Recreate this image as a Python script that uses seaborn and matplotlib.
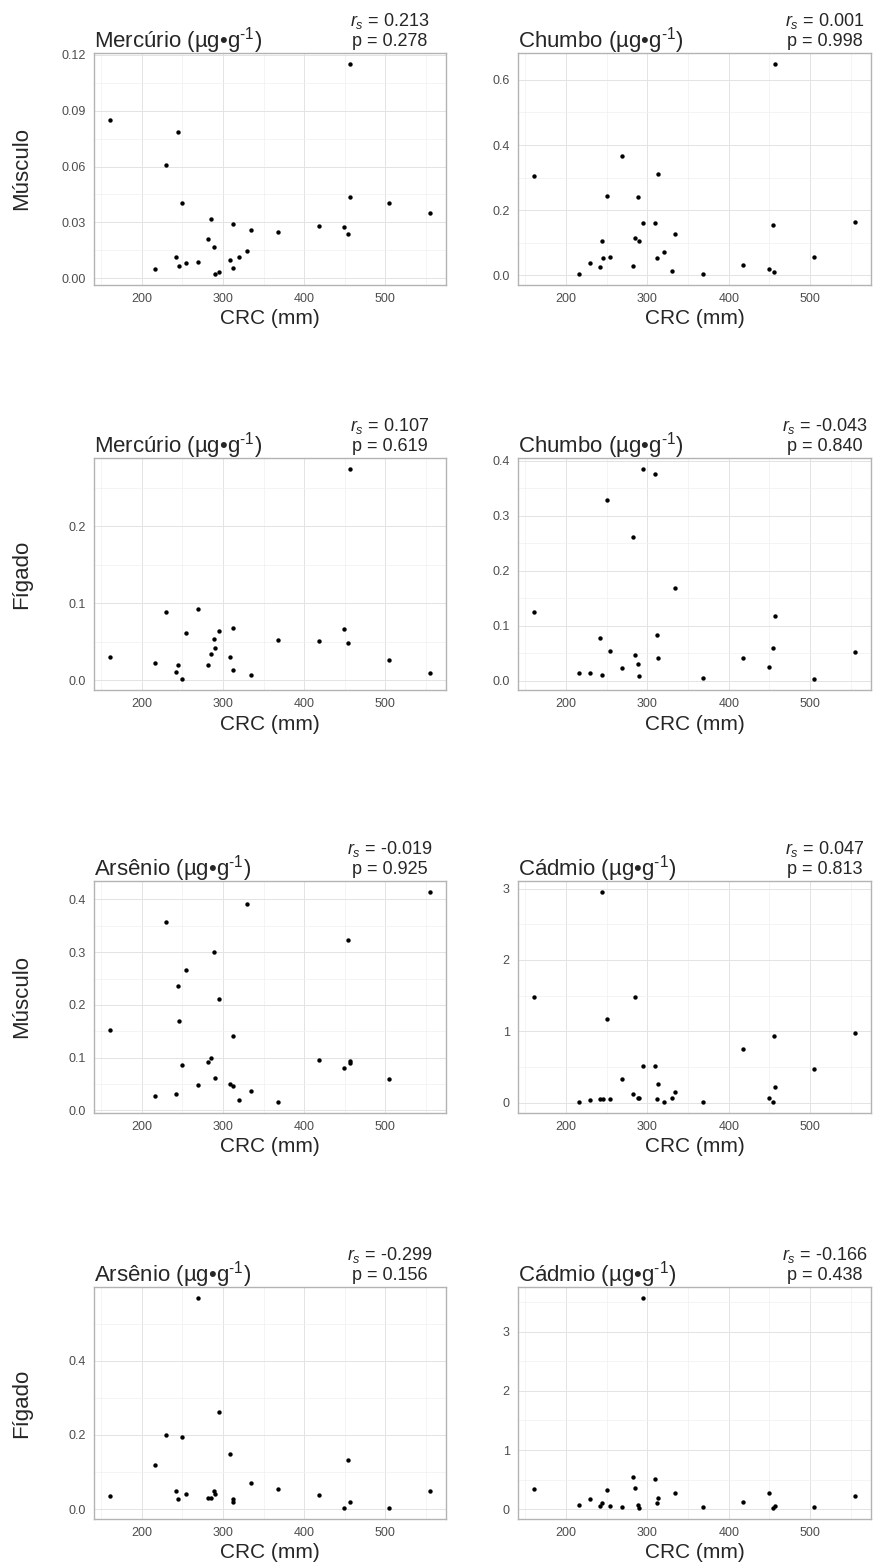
import numpy as np
import pandas as pd
import matplotlib
matplotlib.use("Agg")
import matplotlib.pyplot as plt
import seaborn as sns
from matplotlib.ticker import MultipleLocator, FormatStrFormatter

nan = np.nan

# CRC (mm) of each fish, shared by all panels
crc = [161, 216, 230, 242, 245, 246, 250, 254, 269, 282, 285, 289, 290, 295,
       309, 312, 313, 320, 330, 334, 368, 418, 449, 454, 456, 457, 505, 555]

hg_musculo = [0.085, 0.005, 0.061, 0.0115, 0.0785, 0.0063, 0.0405, 0.008, 0.0085, 0.021,
              0.032, 0.017, 0.002, 0.0035, 0.0098, 0.0055, 0.029, 0.0115, 0.0148, 0.026,
              0.025, 0.028, 0.0277, 0.0238, 0.0439, 0.1154, 0.0404, 0.035]
pb_musculo = [0.306, 0.003, 0.037, 0.027, 0.106, 0.052, 0.244, 0.058, 0.366, 0.029,
              0.114, 0.241, 0.106, 0.161, 0.161, 0.054, 0.312, 0.073, 0.015, 0.127,
              0.003, 0.032, 0.021, 0.155, 0.011, 0.650, 0.057, 0.163]
hg_figado = [0.0307, 0.0225, 0.0883, 0.0113, 0.0195, nan, 0.001, 0.0615, 0.093, 0.0203,
             0.034, 0.053, 0.042, 0.064, 0.030, 0.068, 0.013, nan, nan, 0.0065,
             0.0528, 0.0506, 0.067, 0.0485, nan, 0.275, 0.0264, 0.0095]
pb_figado = [0.1257, 0.0139, 0.0139, 0.0773, 0.0103, nan, 0.328, 0.0538, 0.0224, 0.261,
             0.0465, 0.0308, 0.0091, 0.3855, 0.376, 0.0828, 0.041, nan, nan, 0.168,
             0.0048, 0.041, 0.0248, 0.0592, nan, 0.117, 0.0024, 0.0514]
as_musculo = [0.153, 0.0265, 0.358, 0.032, 0.2366, 0.170, 0.0864, 0.267, 0.0486, 0.0921,
              0.0997, 0.300, 0.0618, 0.211, 0.0505, 0.1407, 0.046, 0.0196, 0.392, 0.0372,
              0.0151, 0.0953, 0.0808, 0.323, 0.0934, 0.090, 0.0593, 0.415]
cd_musculo = [1.484, 0.014, 0.042, 0.056, 2.958, 0.047, 1.172, 0.047, 0.33, 0.121,
              1.488, 0.065, 0.07, 0.516, 0.521, 0.056, 0.27, 0.005, 0.07, 0.149,
              0.005, 0.758, 0.07, 0.005, 0.93, 0.228, 0.479, 0.977]
as_figado = [0.0367, 0.12, 0.1987, 0.050, 0.0286, nan, 0.193, 0.041, 0.570, 0.0295,
             0.0295, 0.048, 0.040, 0.263, 0.149, 0.0188, 0.026, nan, nan, 0.0707,
             0.0546, 0.0385, 0.0018, 0.132, nan, 0.0197, 0.0027, 0.050]
cd_figado = [0.332, 0.062, 0.174, 0.056, 0.096, nan, 0.326, 0.051, 0.039, 0.54,
             0.349, 0.073, 0.011, 3.58, 0.506, 0.096, 0.18, nan, nan, 0.276,
             0.028, 0.124, 0.27, 0.011, nan, 0.056, 0.028, 0.214]

elements = ["Mercúrio", "Chumbo", "Mercúrio", "Chumbo",
            "Arsênio", "Cádmio", "Arsênio", "Cádmio"]
series = [hg_musculo, pb_musculo, hg_figado, pb_figado,
          as_musculo, cd_musculo, as_figado, cd_figado]
rs_values = ["0.213", "0.001", "0.107", "-0.043", "-0.019", "0.047", "-0.299", "-0.166"]
p_values = ["0.278", "0.998", "0.619", "0.840", "0.925", "0.813", "0.156", "0.438"]
row_labels = ["Músculo", "Fígado", "Músculo", "Fígado"]

# y tick step and decimals per panel
y_steps = [0.03, 0.2, 0.1, 0.1, 0.1, 1, 0.2, 1]
y_decimals = [2, 1, 1, 1, 1, 0, 1, 0]

sns.set_style("white")
plt.rcParams["font.family"] = ["Liberation Sans", "DejaVu Sans"]
plt.rcParams["mathtext.fontset"] = "custom"
plt.rcParams["mathtext.rm"] = "Liberation Sans"
plt.rcParams["mathtext.it"] = "Liberation Sans:italic"
plt.rcParams["mathtext.bf"] = "Liberation Sans:bold"

W, H = 875, 1568
fig = plt.figure(figsize=(W / 100, H / 100), dpi=100)

row_tops = [53, 458, 881, 1287]
panel_h = 232
col_left = [94, 518]
col_w = [352, 353]
stat_x = [0.84, 0.87]

for i in range(8):
    r, c = divmod(i, 2)
    top = row_tops[r]
    ax = fig.add_axes([col_left[c] / W, (H - top - panel_h) / H, col_w[c] / W, panel_h / H])
    df = pd.DataFrame({"crc": crc, "val": series[i]}).dropna()
    sns.scatterplot(data=df, x="crc", y="val", ax=ax, color="black", s=10,
                    linewidth=0, zorder=3)
    ax.margins(x=0.05, y=0.05)

    ax.xaxis.set_major_locator(MultipleLocator(100))
    ax.xaxis.set_minor_locator(MultipleLocator(50))
    ax.yaxis.set_major_locator(MultipleLocator(y_steps[i]))
    ax.yaxis.set_minor_locator(MultipleLocator(y_steps[i] / 2))
    ax.yaxis.set_major_formatter(FormatStrFormatter(f"%.{y_decimals[i]}f"))

    ax.grid(which="major", color="#E3E3E3", linewidth=0.7, zorder=0)
    ax.grid(which="minor", color="#F0F0F0", linewidth=0.5, zorder=0)
    ax.set_axisbelow(True)
    for sp in ax.spines.values():
        sp.set_color("#B3B3B3")
        sp.set_linewidth(1.0)
    ax.tick_params(which="major", length=3, width=0.6, color="#B3B3B3",
                   labelsize=9, labelcolor="#4D4D4D", pad=3)
    ax.tick_params(which="minor", length=0)

    ax.set_xlabel("CRC (mm)", fontsize=15, labelpad=3)
    ax.set_ylabel("")
    ax.set_title(f"{elements[i]} (µg•g$^{{\\mathregular{{\u20101}}}}$)", loc="left",
                 fontsize=16, pad=4)
    ax.annotate(f"$r_s$ = {rs_values[i]}\np = {p_values[i]}",
                xy=(stat_x[c], 1), xycoords="axes fraction",
                xytext=(0, 2), textcoords="offset points",
                ha="center", va="bottom", multialignment="center",
                fontsize=13, linespacing=1.15)

    if c == 0:
        fig.text(22 / W, (H - top - panel_h / 2) / H, row_labels[r],
                 rotation=90, ha="center", va="center", fontsize=16)

fig.savefig("out.png", dpi=100, facecolor="white")
